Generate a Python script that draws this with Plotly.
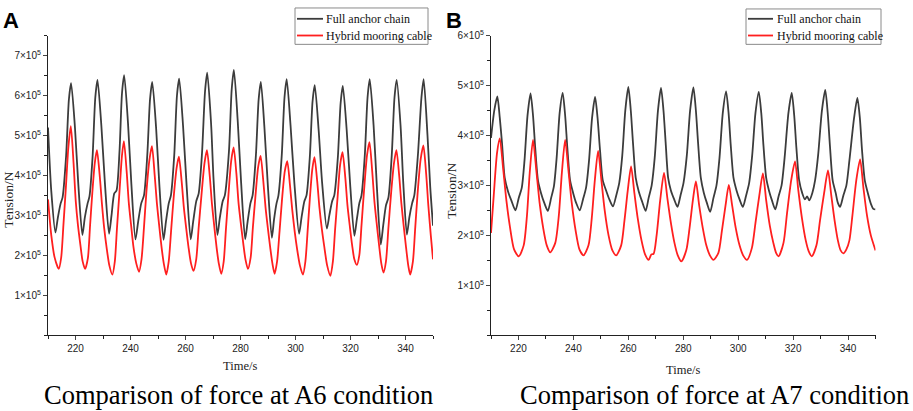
import plotly.graph_objects as go

# Valores (tensão em unidades de 1e5 N, tempo em s)
UNIDADE = 1e5

# Painel A - condição A6
a_corrente_t = [210.0, 211.2, 212.7,
                213.6, 214.6, 215.3, 216.6, 217.6, 218.4, 219.8, 221.0, 222.5,
                223.4, 224.4, 225.1, 226.2, 227.2, 228.0, 229.4, 230.7, 232.2,
                233.1, 234.1, 234.9, 236.0, 236.9, 237.7, 239.1, 240.3, 241.8,
                242.8, 243.9, 244.9, 246.1, 247.1, 247.9, 249.3, 250.5, 252.0,
                252.9, 253.9, 254.7, 255.9, 256.9, 257.7, 259.1, 260.4, 261.9,
                262.8, 263.9, 264.8, 266.0, 267.1, 267.9, 269.3, 270.2, 271.6,
                272.5, 273.5, 274.3, 275.8, 276.8, 277.6, 279.0, 280.2, 281.7,
                282.6, 283.6, 284.4, 285.6, 286.6, 287.4, 288.7, 289.9, 291.4,
                292.2, 293.1, 293.8, 295.0, 296.0, 296.8, 298.2, 299.6, 301.3,
                302.2, 303.2, 304.0, 305.2, 306.2, 307.0, 308.4, 309.7, 311.4,
                312.3, 313.3, 314.1, 315.4, 316.4, 317.2, 318.6, 319.9, 321.4,
                322.3, 323.2, 324.0, 325.2, 326.2, 327.0, 328.4, 329.6, 331.0,
                331.9, 332.9, 333.8, 335.0, 336.0, 336.8, 338.2, 339.2, 340.5,
                341.4, 342.4, 343.2, 344.5, 345.8, 346.6, 348.0, 349.0, 350.0]
a_corrente_v = [5.20, 3.60, 2.57,
                2.95, 3.30, 3.45, 4.50, 5.90, 6.31, 5.20, 3.80, 2.51,
                2.95, 3.30, 3.48, 4.45, 5.95, 6.39, 5.25, 3.80, 2.54,
                3.00, 3.55, 3.62, 4.60, 6.05, 6.51, 5.30, 3.80, 2.40,
                2.85, 3.30, 3.50, 4.50, 5.90, 6.34, 5.20, 3.75, 2.39,
                2.85, 3.30, 3.50, 4.50, 6.00, 6.42, 5.25, 3.75, 2.40,
                2.85, 3.35, 3.55, 4.55, 6.10, 6.57, 5.30, 3.90, 2.51,
                2.95, 3.35, 3.50, 4.60, 6.15, 6.64, 5.35, 3.85, 2.40,
                2.85, 3.30, 3.50, 4.50, 5.90, 6.34, 5.20, 3.80, 2.44,
                2.90, 3.30, 3.50, 4.50, 5.95, 6.41, 5.25, 3.80, 2.54,
                2.95, 3.35, 3.50, 4.45, 5.85, 6.26, 5.15, 3.80, 2.67,
                3.00, 3.35, 3.50, 4.45, 5.80, 6.24, 5.15, 3.75, 2.49,
                2.90, 3.30, 3.50, 4.50, 5.95, 6.41, 5.25, 3.70, 2.27,
                2.75, 3.25, 3.45, 4.50, 5.95, 6.39, 5.25, 3.80, 2.52,
                2.95, 3.30, 3.50, 4.50, 5.95, 6.41, 5.00, 3.70, 2.74]

a_hibrido_t = [210.0, 211.2, 212.4, 213.9,
               214.8, 215.6, 216.5, 217.4, 218.3, 219.3, 220.1, 220.9, 221.8, 222.6, 223.5,
               224.5, 225.3, 226.1, 227.0, 227.8, 228.8, 229.6, 230.4, 231.3, 232.3, 233.4,
               234.3, 235.1, 236.0, 236.9, 237.6, 238.6, 239.4, 240.3, 241.1, 242.1, 243.1,
               244.0, 244.9, 245.8, 246.9, 247.8, 248.8, 249.6, 250.5, 251.3, 252.1, 253.0,
               253.9, 254.8, 255.7, 256.8, 257.6, 258.6, 259.4, 260.3, 261.1, 262.0, 262.9,
               263.9, 264.8, 265.8, 266.9, 267.8, 268.8, 269.6, 270.5, 271.3, 272.1, 273.0,
               273.9, 274.7, 275.6, 276.6, 277.5, 278.5, 279.3, 280.2, 281.0, 281.8, 282.7,
               283.7, 284.5, 285.4, 286.4, 287.3, 288.3, 289.1, 290.0, 290.8, 291.6, 292.4,
               293.3, 294.2, 295.1, 296.1, 297.0, 298.0, 298.8, 299.7, 300.6, 301.6, 302.7,
               303.6, 304.4, 305.2, 306.1, 306.9, 307.9, 308.7, 309.6, 310.5, 311.5, 312.7,
               313.6, 314.4, 315.3, 316.2, 317.1, 318.1, 318.9, 319.8, 320.6, 321.4, 322.3,
               323.2, 324.0, 324.9, 326.0, 326.9, 327.9, 328.7, 329.6, 330.4, 331.2, 332.0,
               332.9, 333.8, 334.7, 335.8, 336.7, 337.7, 338.5, 339.4, 340.2, 341.0, 341.7,
               342.7, 343.5, 344.4, 345.5, 346.5, 347.5, 348.3, 349.2, 350.0]
a_hibrido_v = [3.40, 2.50, 1.95, 1.66,
               1.95, 2.75, 3.70, 4.70, 5.23, 4.30, 3.35, 2.75, 2.25, 1.85, 1.66,
               1.93, 2.75, 3.55, 4.30, 4.63, 4.00, 3.30, 2.70, 2.20, 1.75, 1.52,
               1.85, 2.70, 3.60, 4.50, 4.86, 4.10, 3.30, 2.70, 2.20, 1.80, 1.59,
               1.90, 2.70, 3.60, 4.40, 4.73, 4.00, 3.30, 2.70, 2.20, 1.80, 1.52,
               1.85, 2.65, 3.45, 4.20, 4.47, 3.85, 3.20, 2.65, 2.20, 1.80, 1.61,
               1.90, 2.70, 3.50, 4.30, 4.63, 4.00, 3.30, 2.70, 2.20, 1.80, 1.54,
               1.85, 2.65, 3.50, 4.35, 4.70, 4.05, 3.30, 2.75, 2.30, 1.90, 1.66,
               1.95, 2.70, 3.45, 4.20, 4.49, 3.85, 3.20, 2.65, 2.20, 1.80, 1.54,
               1.85, 2.60, 3.40, 4.10, 4.36, 3.75, 3.15, 2.60, 2.15, 1.75, 1.52,
               1.85, 2.60, 3.40, 4.15, 4.46, 3.85, 3.20, 2.65, 2.20, 1.75, 1.49,
               1.85, 2.65, 3.45, 4.25, 4.58, 3.95, 3.25, 2.70, 2.25, 1.90, 1.76,
               2.00, 2.75, 3.60, 4.50, 4.83, 4.10, 3.35, 2.75, 2.25, 1.80, 1.57,
               1.85, 2.70, 3.50, 4.30, 4.63, 4.00, 3.30, 2.70, 2.20, 1.75, 1.52,
               1.85, 2.65, 3.55, 4.40, 4.75, 4.05, 3.25, 2.50, 1.90]

# Painel B - condição A7
b_corrente_t = [210.0, 211.2, 212.3, 213.2, 214.0, 215.0, 216.2, 217.4, 218.9,
                220.1, 221.2, 222.2, 223.3, 224.4, 225.3, 226.1, 227.1, 228.2, 229.4, 230.7,
                231.9, 232.9, 233.9, 235.0, 236.1, 237.0, 237.8, 238.8, 239.9, 241.0, 242.3,
                243.5, 244.6, 245.7, 246.8, 247.9, 248.8, 249.7, 250.7, 251.9, 253.1, 254.4,
                255.6, 256.7, 257.8, 258.9, 260.0, 260.9, 261.7, 262.7, 263.8, 265.0, 266.3,
                267.4, 268.5, 269.6, 270.8, 271.9, 272.8, 273.6, 274.5, 275.5, 276.7, 277.9,
                279.0, 280.1, 281.3, 282.5, 283.7, 284.6, 285.4, 286.4, 287.5, 288.6, 289.8,
                291.0, 292.1, 293.2, 294.4, 295.6, 296.5, 297.3, 298.3, 299.4, 300.5, 301.7,
                302.9, 304.0, 305.1, 306.3, 307.5, 308.4, 309.2, 310.2, 311.2, 312.3, 313.5,
                314.7, 315.8, 316.9, 318.3, 319.5, 320.4, 321.2, 322.2, 323.3, 324.3, 325.1, 325.9,
                327.0, 328.0, 329.1, 330.5, 331.7, 332.6, 333.4, 334.4, 335.5, 336.3, 337.1,
                338.3, 339.4, 340.5, 342.2, 343.4, 344.3, 345.1, 346.1, 347.2, 348.4, 349.2, 350.0]
b_corrente_v = [3.95, 4.50, 4.78, 4.35, 3.85, 3.15, 2.88, 2.70, 2.50,
                2.75, 2.95, 3.50, 4.40, 4.84, 4.40, 3.75, 3.10, 2.85, 2.65, 2.49,
                2.75, 2.98, 3.55, 4.45, 4.85, 4.40, 3.75, 3.10, 2.85, 2.65, 2.50,
                2.72, 2.95, 3.50, 4.35, 4.77, 4.35, 3.70, 3.10, 2.90, 2.72, 2.58,
                2.80, 3.05, 3.60, 4.50, 4.97, 4.50, 3.85, 3.15, 2.88, 2.68, 2.49,
                2.75, 3.00, 3.55, 4.50, 4.95, 4.50, 3.85, 3.15, 2.90, 2.72, 2.57,
                2.80, 3.05, 3.60, 4.50, 4.96, 4.50, 3.85, 3.15, 2.85, 2.65, 2.47,
                2.75, 3.00, 3.55, 4.45, 4.88, 4.45, 3.80, 3.15, 2.90, 2.72, 2.57,
                2.80, 3.05, 3.60, 4.45, 4.87, 4.45, 3.80, 3.15, 2.90, 2.70, 2.52,
                2.78, 3.00, 3.55, 4.45, 4.85, 4.40, 3.75, 3.10, 2.85, 2.72, 2.78, 2.70,
                2.85, 3.10, 3.60, 4.50, 4.91, 4.45, 3.80, 3.10, 2.85, 2.65, 2.57,
                2.80, 3.00, 3.50, 4.35, 4.75, 4.35, 3.70, 3.10, 2.85, 2.62, 2.53, 2.52]

b_hibrido_t = [210.0, 211.0, 212.2, 213.2, 214.4, 215.6, 216.9, 218.4, 220.1,
               221.9, 223.1, 224.1, 225.3, 226.5, 227.7, 229.0, 230.3, 231.6,
               233.4, 234.7, 235.8, 237.0, 238.2, 239.4, 240.8, 242.2, 243.7,
               245.5, 246.7, 247.8, 249.0, 250.2, 251.4, 252.8, 254.2, 255.6,
               257.4, 258.6, 259.8, 261.0, 262.2, 263.4, 264.8, 266.1, 267.4, 268.4, 269.2,
               270.3, 271.6, 273.0, 274.2, 275.5, 276.8, 278.0, 279.3,
               281.1, 282.3, 283.5, 284.6, 285.8, 287.1, 288.4, 289.7, 291.0,
               292.8, 294.1, 295.4, 296.6, 297.8, 299.1, 300.5, 301.8, 303.2,
               305.0, 306.3, 307.7, 309.0, 310.2, 311.5, 312.8, 313.8, 314.7,
               316.5, 317.8, 319.3, 320.7, 321.9, 323.2, 324.6, 325.7, 326.8,
               328.5, 329.8, 331.3, 332.7, 333.9, 335.1, 336.3, 337.3, 338.3, 339.4,
               340.5, 341.6, 343.0, 344.4, 345.6, 346.9, 348.3, 350.0]
b_hibrido_v = [2.05, 2.80, 3.65, 3.94, 3.35, 2.70, 2.17, 1.72, 1.58,
               1.80, 2.40, 3.25, 3.91, 3.30, 2.65, 2.15, 1.80, 1.66,
               1.85, 2.40, 3.25, 3.91, 3.30, 2.65, 2.10, 1.72, 1.60,
               1.80, 2.35, 3.10, 3.69, 3.10, 2.50, 2.00, 1.70, 1.60,
               1.80, 2.30, 2.90, 3.38, 2.85, 2.35, 1.90, 1.62, 1.51, 1.62, 1.63,
               2.00, 2.70, 3.25, 2.75, 2.25, 1.85, 1.60, 1.48,
               1.70, 2.15, 2.70, 3.08, 2.60, 2.15, 1.80, 1.60, 1.51,
               1.65, 2.10, 2.60, 3.01, 2.60, 2.15, 1.80, 1.60, 1.51,
               1.75, 2.25, 2.80, 3.24, 2.70, 2.20, 1.85, 1.65, 1.58,
               1.85, 2.45, 3.10, 3.48, 2.90, 2.35, 1.90, 1.68, 1.58,
               1.80, 2.30, 2.85, 3.30, 2.80, 2.30, 1.90, 1.70, 1.64, 1.72,
               1.90, 2.40, 3.10, 3.52, 2.95, 2.40, 2.00, 1.70]

nomes_series = ["Full anchor chain", "Hybrid mooring cable"]
legendas_painel = ["Comparison of force at A6 condition", "Comparison of force at A7 condition"]
ticks_y_a = [1, 2, 3, 4, 5, 6, 7]
ticks_y_b = [1, 2, 3, 4, 5, 6]
ticks_x = [220, 240, 260, 280, 300, 320, 340]

COR_CORRENTE = "#3c3c3c"
COR_HIBRIDO = "#ff1f1f"
SERIF = "Liberation Serif, Times New Roman, serif"
SANS = "Liberation Sans, Arial, sans-serif"


def escala(valores):
    return [v * UNIDADE for v in valores]


def rotulos(ticks):
    return [f"{t}×10<sup>5</sup>" for t in ticks]


fig = go.Figure()

series = [
    (a_corrente_t, a_corrente_v, COR_CORRENTE, "x", "y"),
    (a_hibrido_t, a_hibrido_v, COR_HIBRIDO, "x", "y"),
    (b_corrente_t, b_corrente_v, COR_CORRENTE, "x2", "y2"),
    (b_hibrido_t, b_hibrido_v, COR_HIBRIDO, "x2", "y2"),
]
for t, v, cor, xa, ya in series:
    fig.add_trace(go.Scatter(
        x=t, y=escala(v), mode="lines", showlegend=False,
        line=dict(color=cor, width=1.8, shape="spline", smoothing=0.7),
        xaxis=xa, yaxis=ya,
    ))

eixo_x = dict(
    range=[210, 350], tickvals=ticks_x, ticks="outside", ticklen=4, tickwidth=1,
    showline=True, linecolor="#222", linewidth=1.2, showgrid=False, zeroline=False,
    tickfont=dict(family=SANS, size=10, color="#222"),
    minor=dict(ticks="outside", ticklen=2.5, dtick=10, tick0=210, tickcolor="#222"),
)
eixo_y = dict(
    ticks="outside", ticklen=4, tickwidth=1,
    showline=True, linecolor="#222", linewidth=1.2, showgrid=False, zeroline=False,
    tickfont=dict(family=SANS, size=10, color="#222"),
    minor=dict(ticks="outside", ticklen=2.5, dtick=0.5 * UNIDADE, tick0=0, tickcolor="#222"),
)

W, H = 913, 411
topo = 1 - 29 / H
base = 1 - 334 / H

fig.update_layout(
    width=W, height=H,
    margin=dict(l=0, r=0, t=0, b=0),
    paper_bgcolor="white", plot_bgcolor="white",
    showlegend=False,
    xaxis={**eixo_x, "domain": [48 / W, 433 / W], "anchor": "y"},
    yaxis={**eixo_y, "domain": [base, topo], "anchor": "x", "range": [0, 7.5 * UNIDADE],
           "tickvals": escala(ticks_y_a), "ticktext": rotulos(ticks_y_a)},
    xaxis2={**eixo_x, "domain": [491 / W, 875.5 / W], "anchor": "y2"},
    yaxis2={**eixo_y, "domain": [base, topo], "anchor": "x2", "range": [0, 6 * UNIDADE],
            "tickvals": escala(ticks_y_b), "ticktext": rotulos(ticks_y_b)},
)


# legenda desenhada à mão (caixa, amostras de linha e textos), em pixels
def px(x, y):
    return x / W, 1 - y / H


def legenda(x0, x1, y0, y1, linha_x0, linha_x1, texto_x):
    fig.add_shape(type="rect", xref="paper", yref="paper",
                  x0=px(x0, 0)[0], x1=px(x1, 0)[0], y0=px(0, y1)[1], y1=px(0, y0)[1],
                  line=dict(color="#8a8a8a", width=1), fillcolor="white", layer="above")
    for nome, cor, yy in [(nomes_series[0], COR_CORRENTE, 12), (nomes_series[1], COR_HIBRIDO, 29)]:
        fig.add_shape(type="line", xref="paper", yref="paper",
                      x0=px(linha_x0, 0)[0], x1=px(linha_x1, 0)[0], y0=px(0, yy)[1], y1=px(0, yy)[1],
                      line=dict(color=cor, width=1.8), layer="above")
        fig.add_annotation(text=nome, xref="paper", yref="paper", x=px(texto_x, 0)[0], y=px(0, yy)[1],
                           xanchor="left", yanchor="middle", showarrow=False,
                           font=dict(family=SERIF, size=12, color="#111"))


legenda(295, 428, 1, 38, 297, 323, 324)
legenda(746, 881, 2, 38, 748, 773, 775)

anotacoes = [
    dict(text="<b>A</b>", x=1, y=14, xanchor="left", font=dict(family=SANS, size=22, color="black")),
    dict(text="<b>B</b>", x=444, y=14, xanchor="left", font=dict(family=SANS, size=22, color="black")),
    dict(text="Tension/N", x=9, y=196, textangle=-90, font=dict(family=SERIF, size=13.5, color="#222")),
    dict(text="Tension/N", x=452, y=187, textangle=-90, font=dict(family=SERIF, size=13.5, color="#222")),
    dict(text="Time/s", x=240, y=365, font=dict(family=SERIF, size=12.5, color="#222")),
    dict(text="Time/s", x=683, y=369, font=dict(family=SERIF, size=12.5, color="#222")),
    dict(text=legendas_painel[0], x=239, y=395, font=dict(family=SERIF, size=26.5, color="black")),
    dict(text=legendas_painel[1], x=714, y=395, font=dict(family=SERIF, size=26.5, color="black")),
]
for a in anotacoes:
    x, y = px(a.pop("x"), a.pop("y"))
    a.setdefault("xanchor", "center")
    fig.add_annotation(xref="paper", yref="paper", x=x, y=y, yanchor="middle", showarrow=False, **a)

# tira a margem padrão do <body> para a figura ocupar a janela inteira
fig.write_html("out.html", config={"displayModeBar": False},
               post_script="document.body.style.margin='0';document.body.style.overflow='hidden';")
